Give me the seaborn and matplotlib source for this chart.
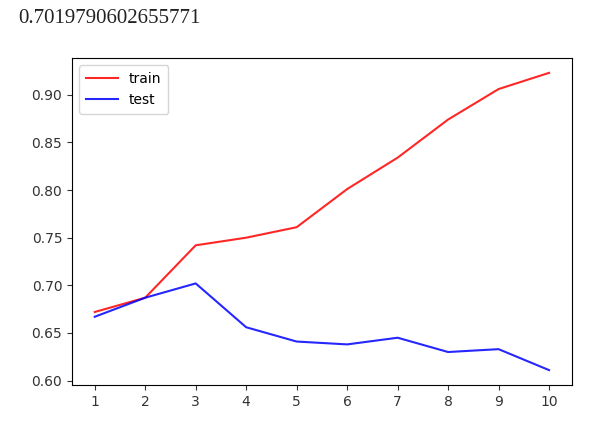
import matplotlib
matplotlib.use('Agg')
import matplotlib.pyplot as plt
import seaborn as sns
import pandas as pd

depth = [1, 2, 3, 4, 5, 6, 7, 8, 9, 10]
train_score = [0.672, 0.687, 0.742, 0.750, 0.761, 0.801, 0.834, 0.874, 0.906, 0.923]
test_score = [0.667, 0.687, 0.702, 0.656, 0.641, 0.638, 0.645, 0.630, 0.633, 0.611]
best_score = "0.7019790602655771"

df = pd.DataFrame({'depth': depth, 'train': train_score, 'test': test_score})

fig = plt.figure(figsize=(5.95, 4.36), dpi=100)
ax = fig.add_axes([0.121, 0.117, 0.840, 0.750])

sns.lineplot(data=df, x='depth', y='train', color='red', alpha=0.85, label='train', ax=ax)
sns.lineplot(data=df, x='depth', y='test', color='blue', alpha=0.85, label='test', ax=ax)

ax.set_xticks(depth)
ax.set_xlabel('')
ax.set_ylabel('')
ax.tick_params(labelsize=10, colors='#333333')
ax.legend(loc='upper left', borderpad=0.5, handlelength=2.3)

# printed score above the chart
fig.text(0.030, 0.957, best_score, fontsize=15, family='Liberation Serif', va='center', color='#222222')

fig.savefig('out.png', dpi=100)
